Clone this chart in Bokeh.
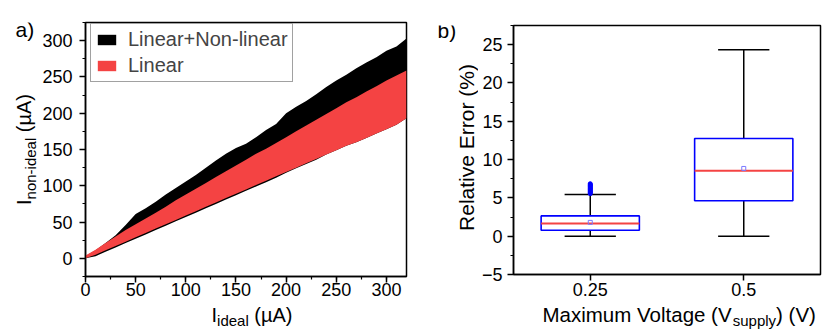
import math
from bokeh.plotting import figure
from bokeh.layouts import row, column
from bokeh.models import (Label, Legend, LegendItem, SingleIntervalTicker,
                          FixedTicker, Range1d)
from bokeh.embed import file_html
from bokeh.resources import INLINE

FONT = "Liberation Sans"

# ---------------- panel a data (uA) ----------------
i_ideal   = [0, 10, 20, 30, 40, 50, 60, 70, 80, 90, 100, 110, 120, 130, 140, 150, 160,
             170, 180, 190, 200, 210, 220, 230, 240, 250, 260, 270, 280, 290, 300, 310, 320]
nl_upper  = [3, 11, 21, 32, 46, 61, 69, 78, 88, 97, 106, 115, 125, 135, 144, 152, 158,
             167, 177, 185, 200, 209, 217, 226, 236, 245, 253, 262, 270, 277, 286, 292, 303]
nl_lower  = [0, 3, 9, 15, 21, 27, 33, 39, 45, 51, 57, 63, 69, 75, 81, 87, 93,
             99, 105, 111, 118, 124, 130, 136, 143, 149, 155, 160, 166, 172, 178, 184, 193]
lin_upper = [4, 12, 21, 30, 39, 47, 55, 63, 71, 80, 88, 96, 104, 112, 120, 128, 136,
             144, 151, 159, 167, 175, 183, 191, 199, 207, 215, 222, 230, 237, 245, 252, 259]
lin_lower = [0, 5, 11, 17, 23, 29, 35, 41, 47, 53, 59, 65, 71, 77, 83, 89, 95,
             101, 107, 113, 119, 125, 131, 137, 143, 149, 155, 160, 166, 172, 178, 184, 193]
series_names = ["Linear+Non-linear", "Linear"]

# ---------------- panel b data (%) ----------------
voltages  = ["0.25", "0.5"]
q1        = [0.78, 4.62]
median    = [1.65, 8.54]
q3        = [2.65, 12.76]
mean      = [1.80, 8.84]
whisk_lo  = [0.0, 0.0]
whisk_hi  = [5.44, 24.35]
outliers_025 = [5.55, 5.65, 5.75, 5.85, 5.95, 6.05, 6.15, 6.25, 6.35, 6.45, 6.55, 6.65, 6.75, 6.85]

RED = "#F44343"
BLUE = "#0000FF"

# approximate Liberation Sans advance widths (em)
W = {' ': .278, '(': .333, ')': .333, '%': .889, '+': .584, '-': .333, '.': .278,
     'A': .667, 'E': .667, 'I': .278, 'L': .556, 'M': .833, 'N': .722, 'R': .722, 'V': .667,
     'a': .556, 'd': .556, 'e': .556, 'g': .556, 'i': .222, 'l': .222, 'm': .833, 'n': .556,
     'o': .556, 'p': .556, 'r': .333, 's': .5, 't': .278, 'u': .556, 'v': .5, 'x': .5,
     'y': .5, 'µ': .577}
BASE_K = 0.35   # rendered baseline lies this many em past the anchor


def twidth(s, size):
    return sum(W.get(c, .556) for c in s) * size


def style_axes(p, xstand, ystand):
    for ax, st in ((p.xaxis[0], xstand), (p.yaxis[0], ystand)):
        ax.axis_line_width = 1.5
        ax.major_tick_line_width = 1.5
        ax.minor_tick_line_width = 1.2
        ax.major_tick_out = 6
        ax.major_tick_in = 0
        ax.minor_tick_out = 3
        ax.minor_tick_in = 0
        ax.major_label_text_font = FONT
        ax.major_label_text_font_size = "18px"
        ax.major_label_text_color = "black"
        ax.major_label_standoff = st
    p.xgrid.visible = False
    p.ygrid.visible = False
    p.outline_line_color = "black"
    p.outline_line_width = 1.5
    p.outline_line_alpha = 1


def strip(w, h):
    s = figure(width=w, height=h, title=None, output_backend="svg", toolbar_location=None,
               x_range=Range1d(0, 1), y_range=Range1d(0, 1), min_border=0,
               x_axis_location=None, y_axis_location=None)
    s.outline_line_color = None
    s.xgrid.visible = False
    s.ygrid.visible = False
    return s


def clabel(p, X, Y, txt, size, angle=0.0, align="left"):
    """X, Y: wanted baseline point in canvas pixels."""
    k = BASE_K * size
    if angle:
        X -= k
    else:
        Y -= k
    p.add_layout(Label(x=X, y=Y, x_units="canvas", y_units="canvas", text=txt, angle=angle,
                       text_align=align, text_baseline="alphabetic", text_font=FONT,
                       text_font_size=f"{size}px", text_color="black"))


def add_rich(p, ox, oy, pieces, x0, y0, vertical=False):
    """pieces: (text, size, shift) laid along a line; window coords, (ox, oy) canvas origin."""
    pos = 0.0
    for txt, size, shift in pieces:
        lead = len(txt) - len(txt.lstrip(" "))
        pos += twidth(" " * lead, size)
        t = txt.lstrip(" ")
        if vertical:
            clabel(p, x0 + shift - ox, y0 - pos - oy, t, size, angle=math.pi / 2)
        else:
            clabel(p, x0 + pos - ox, y0 + shift - oy, t, size)
        pos += twidth(t, size)


H = 332
TOPH = 302          # height of the plotting row; strips below fill the rest
AW = 423            # panel a total width
BW = 830 - AW       # panel b total width

# ================= panel a =================
A_L, A_T, A_R, A_B = 82, 22, 406, 276          # frame, window coords
SA = 39                                        # left strip width
pa = figure(width=AW - SA, height=TOPH, title=None, output_backend="svg",
            toolbar_location=None, x_range=Range1d(0, 320), y_range=Range1d(-25, 325),
            min_border_left=A_L - SA, min_border_right=AW - A_R,
            min_border_top=A_T, min_border_bottom=TOPH - A_B)
pa.xaxis.ticker = SingleIntervalTicker(interval=50, num_minor_ticks=2)
pa.yaxis.ticker = SingleIntervalTicker(interval=50, num_minor_ticks=2)
style_axes(pa, 0, 7)

r_nl = pa.varea(x=i_ideal, y1=nl_lower, y2=nl_upper, fill_color="black")
r_lin = pa.varea(x=i_ideal, y1=lin_lower, y2=lin_upper, fill_color=RED)

leg = Legend(items=[LegendItem(label=series_names[0], renderers=[r_nl]),
                    LegendItem(label=series_names[1], renderers=[r_lin])],
             location=(5, A_B - 82), orientation="vertical")
leg.label_text_font = FONT
leg.label_text_font_size = "20px"
leg.glyph_width = 23
leg.glyph_height = 13
leg.label_height = 21
leg.label_standoff = 10
leg.padding = 4
leg.spacing = 3
leg.margin = 0
leg.border_line_color = "#444444"
leg.border_line_width = 1.2
leg.background_fill_alpha = 1
pa.add_layout(leg)

sa_left = strip(SA, TOPH)
clabel(sa_left, 15, 36.5, "a)", 21)
ylab_a = [("I", 20, 0), ("non-ideal", 15, 5), (" (µA)", 20, 0)]
tot = sum(twidth(t, s) for t, s, _ in ylab_a)
add_rich(sa_left, 0, 0, ylab_a, 30, 149 + tot / 2, vertical=True)

sa_below = strip(AW, H - TOPH)
xlab_a = [("I", 20, 0), ("ideal", 15, 4.5), (" (µA)", 20, 0)]
add_rich(sa_below, 0, TOPH, xlab_a, 211, 321)

# ================= panel b =================
B_L, B_T, B_R, B_B = 510, 25, 820, 274
SB = 55
pb = figure(width=BW - SB, height=TOPH, title=None, output_backend="svg",
            toolbar_location=None, x_range=Range1d(0.5, 2.5), y_range=Range1d(-5, 27.5),
            min_border_left=B_L - AW - SB, min_border_right=830 - B_R,
            min_border_top=B_T, min_border_bottom=TOPH - B_B)
pos = [i + 1 for i in range(len(voltages))]
pb.xaxis.ticker = FixedTicker(ticks=pos, minor_ticks=[])
pb.xaxis.major_label_overrides = {p_: v for p_, v in zip(pos, voltages)}
pb.yaxis.ticker = SingleIntervalTicker(interval=5, num_minor_ticks=2)
style_axes(pb, 2, 5)

HB = 0.32   # half box width
HC = 0.167  # half cap width
pb.segment(x0=pos, y0=whisk_lo, x1=pos, y1=whisk_hi, line_color="black", line_width=1.5)
pb.quad(left=[p_ - HB for p_ in pos], right=[p_ + HB for p_ in pos], bottom=q1, top=q3,
        fill_color="white", line_color=BLUE, line_width=1.6)
pb.segment(x0=[p_ - HB for p_ in pos], x1=[p_ + HB for p_ in pos], y0=median, y1=median,
           line_color=RED, line_width=2)
pb.segment(x0=[p_ - HC for p_ in pos], x1=[p_ + HC for p_ in pos], y0=whisk_hi, y1=whisk_hi,
           line_color="black", line_width=1.5)
pb.segment(x0=[p_ - HC for p_ in pos], x1=[p_ + HC for p_ in pos], y0=whisk_lo, y1=whisk_lo,
           line_color="black", line_width=1.5)
pb.scatter(x=pos, y=mean, marker="square", size=4, fill_color=None, line_color="#7A7AFF",
           line_width=1)
pb.scatter(x=[pos[0]] * len(outliers_025), y=outliers_025, marker="circle", size=4,
           fill_color=BLUE, line_color=BLUE)

sb_left = strip(SB, TOPH)
clabel(sb_left, 437 - AW, 37, "b)", 21)
clabel(sb_left, 473 - AW, 147, "Relative Error (%)", 21, angle=math.pi / 2, align="center")

sb_below = strip(BW, H - TOPH)
xlab_b = [("Maximum Voltage (V", 20.5, 0), ("supply", 15, 4.5), (") (V)", 20.5, 0)]
add_rich(sb_below, AW, TOPH, xlab_b, 542, 321)

layout = row(column(row(sa_left, pa, spacing=0), sa_below, spacing=0),
             column(row(sb_left, pb, spacing=0), sb_below, spacing=0), spacing=0)
open("out.html", "w").write(file_html(layout, INLINE))
